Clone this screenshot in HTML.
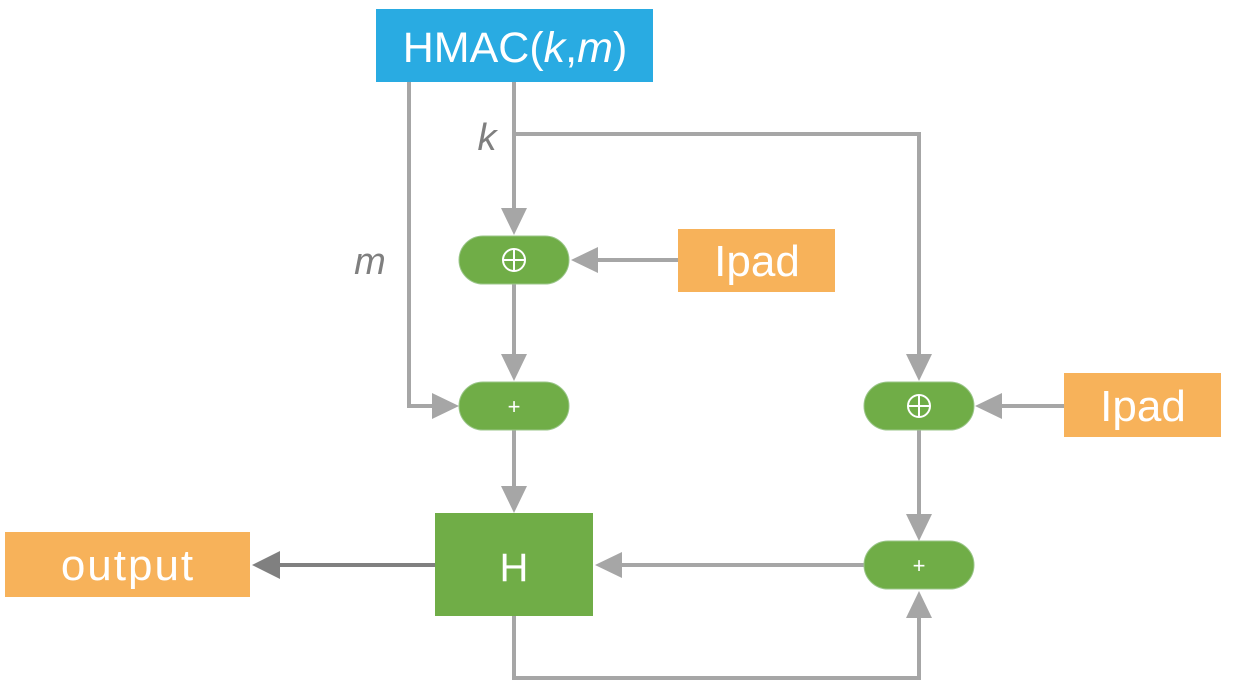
<!DOCTYPE html>
<html><head><style>
html,body{margin:0;padding:0;background:#fff;}
svg{display:block;}
text{font-family:"Liberation Sans",sans-serif;}
</style></head><body>
<svg width="1237" height="683" viewBox="0 0 1237 683" xmlns="http://www.w3.org/2000/svg">
<g stroke="#a6a6a6" stroke-width="4" fill="none">
  <polyline points="409,82 409,406 432,406"/>
  <line x1="514" y1="82" x2="514" y2="210"/>
  <polyline points="514,134 919,134 919,356"/>
  <line x1="678" y1="260" x2="598" y2="260"/>
  <line x1="514" y1="284" x2="514" y2="356"/>
  <line x1="514" y1="430" x2="514" y2="488"/>
  <line x1="1064" y1="406" x2="1002" y2="406"/>
  <line x1="919" y1="430" x2="919" y2="515"/>
  <line x1="864" y1="565" x2="622" y2="565"/>
  <polyline points="514,616 514,678 919,678 919,618"/>
</g>
<line x1="435" y1="565" x2="278" y2="565" stroke="#808080" stroke-width="4"/>
<g fill="#a6a6a6">
  <polygon points="432,393 459,406 432,419"/>
  <polygon points="501,208 514,235 527,208"/>
  <polygon points="598,247 571,260 598,273"/>
  <polygon points="501,354 514,381 527,354"/>
  <polygon points="501,486 514,513 527,486"/>
  <polygon points="906,354 919,381 932,354"/>
  <polygon points="1002,393 975,406 1002,419"/>
  <polygon points="906,514 919,541 932,514"/>
  <polygon points="622,552 595,565 622,578"/>
  <polygon points="906,618 919,591 932,618"/>
</g>
<polygon points="280,551 252,565 280,579" fill="#808080"/>
<rect x="376" y="9" width="277" height="73" fill="#29abe2"/>
<text x="515" y="62" font-size="43" fill="#fff" text-anchor="middle">HMAC(<tspan font-style="italic">k</tspan>,<tspan font-style="italic">m</tspan>)</text>
<text x="487" y="150" font-size="38" fill="#7f7f7f" font-style="italic" text-anchor="middle">k</text>
<text x="370" y="274" font-size="38" fill="#7f7f7f" font-style="italic" text-anchor="middle">m</text>
<g fill="#70ad47" stroke="#9bc68a" stroke-width="1">
  <rect x="459" y="236" width="110" height="48" rx="24"/>
  <rect x="459" y="382" width="110" height="48" rx="24"/>
  <rect x="864" y="382" width="110" height="48" rx="24"/>
  <rect x="864" y="541" width="110" height="48" rx="24"/>
</g>
<rect x="435" y="513" width="158" height="103" fill="#70ad47"/>
<g stroke="#fff" stroke-width="2" fill="none">
  <circle cx="514" cy="260" r="11"/><line x1="503" y1="260" x2="525" y2="260"/><line x1="514" y1="249" x2="514" y2="271"/>
  <circle cx="919" cy="406" r="11"/><line x1="908" y1="406" x2="930" y2="406"/><line x1="919" y1="395" x2="919" y2="417"/>
</g>
<text x="514" y="414" font-size="22" fill="#fff" text-anchor="middle">+</text>
<text x="919" y="573" font-size="22" fill="#fff" text-anchor="middle">+</text>
<text x="514" y="581" font-size="40" fill="#fff" text-anchor="middle">H</text>
<g fill="#f7b25a">
  <rect x="678" y="229" width="157" height="63"/>
  <rect x="1064" y="373" width="157" height="64"/>
  <rect x="5" y="532" width="245" height="65"/>
</g>
<text x="757" y="276" font-size="44" fill="#fff" text-anchor="middle">Ipad</text>
<text x="1143" y="421" font-size="44" fill="#fff" text-anchor="middle">Ipad</text>
<text x="128" y="580" font-size="44" fill="#fff" text-anchor="middle" letter-spacing="2">output</text>
</svg>
</body></html>
